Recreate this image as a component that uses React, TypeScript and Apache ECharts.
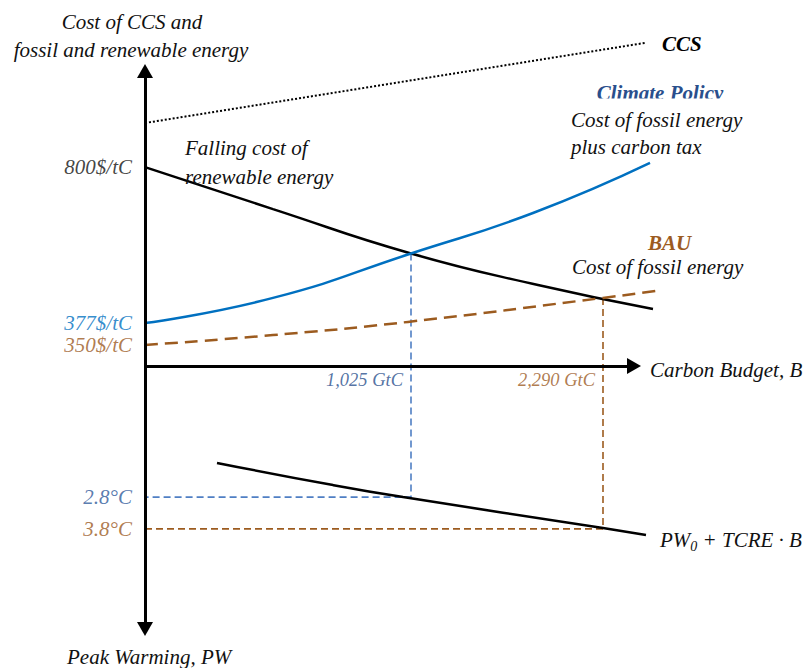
import React, { useEffect, useRef } from 'react';
import * as echarts from 'echarts';

// ---- data (abstract schematic units) ----
const ccsX = [0, 100];
const ccsY = [81, 107.7];

const renewableX = [0, 25.6, 53.2, 78.6, 101.6];
const renewableY = [66.3, 52.3, 37.5, 27, 19];

const policyX = [0, 25.6, 53.2, 77.6, 101];
const policyY = [14.3, 22.7, 37.5, 51, 67.7];

const bauX = [0, 25.6, 52.6, 91.6, 103.4];
const bauY = [7, 10.3, 14.7, 22.7, 25.3];

const warmingX = [14.4, 37.6, 51.6, 91.6, 100.2];
const warmingY = [-32.3, -39.7, -43.7, -54, -56.3];

const policyBudget = 53.2;
const bauBudget = 91.6;
const policyCross = 37.5;
const bauCross = 22.7;
const policyWarming = -43.7;
const bauWarming = -54.3;

const costTickValues = [66.3, 14.3, 7];
const costTickLabels = ['800$/tC', '377$/tC', '350$/tC'];
const warmingTickValues = [policyWarming, bauWarming];
const warmingTickLabels = ['2.8°C', '3.8°C'];
const budgetTickValues = [policyBudget, bauBudget];
const budgetTickLabels = ['1,025 GtC', '2,290 GtC'];

// ---- styles ----
const FONT = "'Liberation Serif', 'Times New Roman', serif";
const BLUE = '#0070C0';
const DARK_BLUE = '#2A4F8C';
const LABEL_BLUE = '#2F5A9A';
const DASH_BLUE = '#4F7FC4';
const BROWN = '#9C5B1F';

const zip = (xs: number[], ys: number[]) => xs.map((x, i) => [x, ys[i]]);

const curve = (name: string, xs: number[], ys: number[], color: string, width: number, type: any, smooth: any, z = 3) => ({
  type: 'line',
  name,
  data: zip(xs, ys),
  showSymbol: false,
  symbol: 'none',
  smooth,
  silent: true,
  z,
  lineStyle: { color, width, type },
});

const txt = (text: string, x: number, y: number, opts: any = {}) => ({
  type: 'text',
  x,
  y,
  silent: true,
  z: opts.z ?? 5,
  style: {
    text,
    fontFamily: FONT,
    fontSize: opts.fontSize ?? 21,
    fontStyle: 'italic',
    fontWeight: opts.fontWeight ?? 'normal',
    fill: opts.fill ?? '#111',
    textAlign: opts.align ?? 'left',
    textVerticalAlign: 'middle',
    rich: opts.rich,
  },
});

export default function App() {
  const ref = useRef<HTMLDivElement>(null);

  useEffect(() => {
    if (!ref.current) return;
    const chart = echarts.init(ref.current, undefined, { renderer: 'svg' });

    const costColors = ['#111', BLUE, BROWN];
    const warmColors = [LABEL_BLUE, BROWN];
    const budgetColors = [DARK_BLUE, BROWN];

    const option: any = {
      animation: false,
      grid: { left: 145, top: 36, width: 550, height: 630 },
      xAxis: { type: 'value', min: 0, max: 110, show: false },
      yAxis: { type: 'value', min: -100, max: 110, show: false },
      series: [
        // axes
        {
          type: 'line',
          data: [[0, 0]],
          symbol: 'none',
          showSymbol: false,
          lineStyle: { width: 0 },
          silent: true,
          z: 6,
          markLine: {
            silent: true,
            animation: false,
            symbolSize: [16, 14],
            label: { show: false },
            lineStyle: { color: '#000', width: 3, type: 'solid' },
            data: [
              [
                { coord: [0, 0], symbol: 'none' },
                { coord: [97.8, 0], symbol: 'triangle' },
              ],
              [
                { coord: [0, -87.7], symbol: 'triangle' },
                { coord: [0, 98.3], symbol: 'triangle' },
              ],
            ],
          },
        },
        curve('CCS', ccsX, ccsY, '#000', 2, [2, 2], false),
        curve('Renewable', renewableX, renewableY, '#000', 2.5, 'solid', 0.5),
        curve('Climate Policy', policyX, policyY, BLUE, 2.5, 'solid', 0.5),
        curve('BAU', bauX, bauY, BROWN, 2.5, [13, 7], 0.5),
        curve('Peak warming', warmingX, warmingY, '#000', 2.5, 'solid', 0.5),
        curve(
          'Policy drop',
          [policyBudget, policyBudget, 0],
          [policyCross, policyWarming, policyWarming],
          DASH_BLUE,
          1.6,
          [7, 4],
          false,
          2
        ),
        curve(
          'BAU drop',
          [bauBudget, bauBudget, 0],
          [bauCross, bauWarming, bauWarming],
          BROWN,
          1.6,
          [7, 4],
          false,
          2
        ),
        // y labels (cost + warming)
        {
          type: 'scatter',
          symbolSize: 0,
          silent: true,
          z: 7,
          data: [
            ...costTickValues.map((v, i) => ({
              value: [0, v],
              name: costTickLabels[i],
              label: { color: costColors[i] },
            })),
            ...warmingTickValues.map((v, i) => ({
              value: [0, v],
              name: warmingTickLabels[i],
              label: { color: warmColors[i] },
            })),
          ],
          label: {
            show: true,
            position: 'left',
            distance: 13,
            formatter: (p: any) => p.name,
            fontFamily: FONT,
            fontSize: 21,
            fontStyle: 'italic',
          },
        },
        // budget labels
        {
          type: 'scatter',
          symbolSize: 0,
          silent: true,
          z: 7,
          data: budgetTickValues.map((v, i) => ({
            value: [v, 0],
            name: budgetTickLabels[i],
            label: { color: budgetColors[i] },
          })),
          label: {
            show: true,
            position: [-8, 14],
            align: 'right',
            verticalAlign: 'middle',
            formatter: (p: any) => p.name,
            fontFamily: FONT,
            fontSize: 18.5,
            fontStyle: 'italic',
          },
        },
      ],
      graphic: [
        txt('Cost of CCS and', 132, 22, { align: 'center' }),
        txt('fossil and renewable energy', 131, 50, { align: 'center' }),
        txt('Falling cost of', 185, 148),
        txt('renewable energy', 185, 177),
        txt('CCS', 662, 44, { fontWeight: 'bold', fill: '#000' }),
        txt('Climate Policy', 660, 93, { fontWeight: 'bold', fill: DARK_BLUE, align: 'center' }),
        {
          type: 'rect',
          silent: true,
          z: 6,
          shape: { x: 588, y: 98.5, width: 145, height: 9 },
          style: { fill: '#fff' },
        },
        txt('Cost of fossil energy', 571, 120),
        txt('plus carbon tax', 571, 147),
        txt('BAU', 648, 243, { fontWeight: 'bold', fill: BROWN }),
        txt('Cost of fossil energy', 572, 267),
        txt('Carbon Budget, B', 650, 370),
        txt('{a|PW}{s|0}{a| + TCRE · B}', 660, 540, {
          rich: {
            a: { fontFamily: FONT, fontSize: 21, fontStyle: 'italic', fill: '#111', color: '#111', lineHeight: 26, verticalAlign: 'middle' },
            s: { fontFamily: FONT, fontSize: 14, fontStyle: 'italic', fill: '#111', color: '#111', lineHeight: 14, verticalAlign: 'bottom' },
          },
        }),
        txt('Peak Warming, PW', 67, 657),
      ],
    };

    chart.setOption(option);
    return () => chart.dispose();
  }, []);

  return (
    <div
      ref={ref}
      style={{ position: 'absolute', left: 0, top: 0, width: 803, height: 668, background: '#fff' }}
    />
  );
}
